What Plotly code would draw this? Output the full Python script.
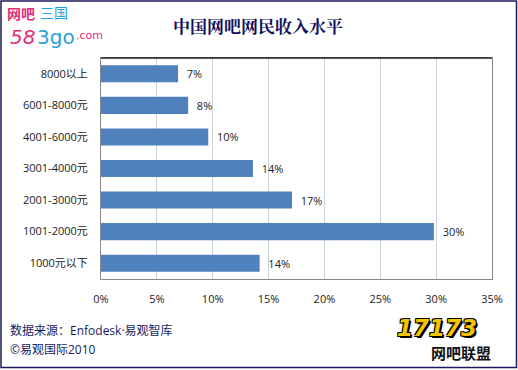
import plotly.graph_objects as go

categories = ["1000元以下", "1001-2000元", "2001-3000元", "3001-4000元", "4001-6000元", "6001-8000元", "8000以上"]
values = [14.2, 29.8, 17.1, 13.6, 9.6, 7.8, 6.9]
labels = ["14%", "30%", "17%", "14%", "10%", "8%", "7%"]
tick_vals = [0, 5, 10, 15, 20, 25, 30, 35]
tick_text = ["0%", "5%", "10%", "15%", "20%", "25%", "30%", "35%"]

font_main = "Open Sans, Noto Sans CJK SC, sans-serif"

L, R, T, B = 101, 26, 58, 91
PW, PH = 518 - L - R, 370 - T - B

fig = go.Figure()
fig.add_trace(go.Bar(
    y=categories, x=values, orientation="h",
    marker=dict(color="#4F81BD", line=dict(width=0)),
    text=["\u00a0\u00a0" + s for s in labels], textposition="outside", cliponaxis=False,
    textfont=dict(size=11, color="#222222", family=font_main),
    width=0.54,
))

fig.update_layout(
    width=518, height=370,
    margin=dict(l=L, r=R, t=T, b=B),
    paper_bgcolor="white", plot_bgcolor="white",
    showlegend=False,
    font=dict(family=font_main, color="#222222"),
    xaxis=dict(range=[0, 35], tickvals=tick_vals, ticktext=tick_text,
               showgrid=True, gridcolor="#C9D3E0", gridwidth=1,
               zeroline=False, showline=True, linecolor="#888888", mirror=True,
               ticks="", tickfont=dict(size=11, color="#222222"),
               automargin=False, ticklabelstandoff=10),
    yaxis=dict(showgrid=False, zeroline=False, showline=True, linecolor="#888888",
               mirror=True, ticks="", tickfont=dict(size=11, color="#222222"),
               automargin=False, ticklabelstandoff=10),
)

def px(x):
    return (x - L) / PW

def py(y):
    return (370 - y - B) / PH

shapes = [
    dict(type="rect", xref="paper", yref="paper", x0=px(1), x1=px(516.5),
         y0=py(367.5), y1=py(1), line=dict(color="#1A1A5E", width=1.5)),
    dict(type="line", xref="paper", yref="paper", x0=0, x1=1, y0=1, y1=1,
         line=dict(color="#222222", width=1.5)),
]
fig.update_layout(shapes=shapes)

outline = "1px 1px 0 #000, -1px -1px 0 #000, 1px -1px 0 #000, -1px 1px 0 #000, 2px 2px 0 #000"
ann = [
    dict(text="<b>中国网吧网民收入水平</b>", x=258, y=25, font=dict(size=17, color="#101060", family="Noto Serif CJK SC, Noto Sans CJK SC, serif")),
    dict(text="数据来源：Enfodesk·易观智库", x=8, y=330, xanchor="left", font=dict(size=12, color="#1A1A5E")),
    dict(text="©易观国际2010", x=8, y=349, xanchor="left", font=dict(size=12, color="#1A1A5E")),
    dict(text="<b>网吧</b>", x=5, y=13, xanchor="left", font=dict(size=14, color="#E0307A", family="Noto Sans CJK SC", weight=900)),
    dict(text="三国", x=38, y=12, xanchor="left", font=dict(size=14, color="#2AA0D8", family="Noto Sans CJK SC")),
    dict(text="<i>58</i>", x=8, y=37, xanchor="left", font=dict(size=20, color="#E0307A", family="DejaVu Sans")),
    dict(text="3go", x=35, y=37, xanchor="left", font=dict(size=20, color="#2AA0D8", family="DejaVu Sans")),
    dict(text=".com", x=74, y=36, xanchor="left", font=dict(size=11, color="#E0307A", family="DejaVu Sans")),
    dict(text="<b><i>17173</i></b>", x=437, y=328, font=dict(size=23, color="#F5C400", family="DejaVu Sans", shadow=outline)),
    dict(text="<b>网吧联盟</b>", x=461, y=352, font=dict(size=15, color="#111111", family="Noto Sans CJK SC")),
]
annotations = []
for a in ann:
    d = dict(xref="paper", yref="paper", showarrow=False, yanchor="middle")
    d.update(a)
    d["x"] = px(a["x"])
    d["y"] = py(a["y"])
    d.setdefault("xanchor", "center")
    annotations.append(d)
fig.update_layout(annotations=annotations)

fig.write_html("out.html", config={"displayModeBar": False},
               post_script="document.body.style.margin='0';document.body.style.padding='0';")
